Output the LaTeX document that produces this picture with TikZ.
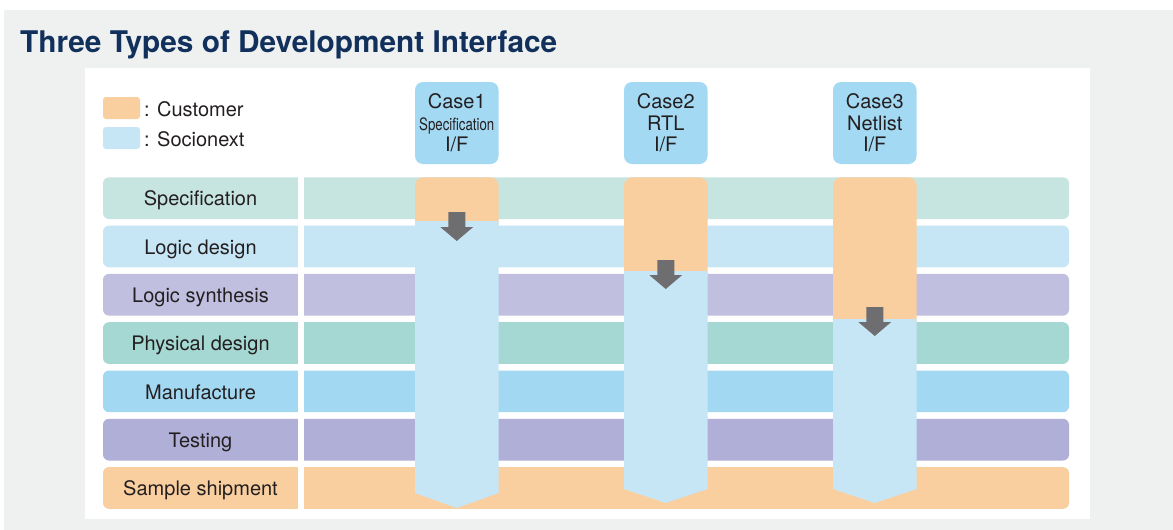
\documentclass[tikz,border=0pt]{standalone}
\usepackage{fontspec}
\setmainfont{TeX Gyre Heros}
\usepackage{graphicx}
\usepackage{xcolor}
\usetikzlibrary{positioning}
\definecolor{bggray}{HTML}{EFF1F0}
\definecolor{titleblue}{HTML}{12305C}
\definecolor{txtdark}{HTML}{231F20}
\definecolor{custorange}{HTML}{F9CFA0}
\definecolor{sociblue}{HTML}{C6E6F6}
\definecolor{hdrblue}{HTML}{A3D9F3}
\definecolor{arrowgray}{HTML}{6E6E70}
\definecolor{rowspec}{HTML}{C6E5E0}
\definecolor{rowlogic}{HTML}{C6E6F6}
\definecolor{rowsynth}{HTML}{C0BFE0}
\definecolor{rowphys}{HTML}{A6D8D3}
\definecolor{rowmanu}{HTML}{A2D8F1}
\definecolor{rowtest}{HTML}{B0AFD7}
\definecolor{rowship}{HTML}{F9CFA0}

\begin{document}
\begin{tikzpicture}[x=1pt,y=-1pt,
  lbl/.style={anchor=base,text=txtdark,font=\fontsize{20}{21.5}\selectfont},
  casebox/.style={fill=hdrblue,rounded corners=8pt,minimum width=83.5pt,minimum height=82pt,
    inner sep=0pt,align=center,text=txtdark,font=\fontsize{20}{21.5}\selectfont}]
\useasboundingbox (0,0) rectangle (1173,530);
\fill[bggray] (4,10) rectangle (1173,530);
\fill[white] (85,68) rectangle (1090,519);
\node[anchor=base west,inner sep=0pt,text=titleblue,font=\fontsize{29.8}{29.8}\selectfont\bfseries] (title) at (20,52) {Three Types of Development Interface};

\fill[custorange,rounded corners=3pt] (103,97) rectangle (140,119);
\node[lbl,anchor=base west,inner sep=0pt] (cust) at (144,116) {: Customer};
\fill[sociblue,rounded corners=3pt] (103,127) rectangle (140,149);
\node[lbl,anchor=base west,inner sep=0pt] (soci) at (144,146) {: Socionext};

\foreach \name/\col [count=\i from 0] in {Specification/rowspec,Logic design/rowlogic,Logic synthesis/rowsynth,Physical design/rowphys,Manufacture/rowmanu,Testing/rowtest,Sample shipment/rowship} {
  \pgfmathsetmacro\ytop{177.3+48.3*\i}
  \fill[\col,rounded corners=6pt] (103,\ytop) rectangle (1069,\ytop+41.7);
  \node[lbl] (step\i) at (200.5,\ytop+28.6) {\name};
}
\fill[white] (298.3,170) rectangle (304,515);

\foreach \xl/\oend/\atop/\side/\tip [count=\j] in {415/221/212/493/508,624/271/260/489/503,833/319/307/489/503} {
  \fill[custorange,rounded corners=8pt] (\xl,177.3) rectangle (\xl+83.5,\oend+12);
  \fill[sociblue] (\xl,\oend) -- (\xl,\side) -- (\xl+41.75,\tip) -- (\xl+83.5,\side) -- (\xl+83.5,\oend) -- cycle;
  \pgfmathsetmacro\xc{\xl+41.75}
  \fill[arrowgray] (\xc-8.5,\atop) -- (\xc+8.5,\atop) -- (\xc+8.5,\atop+15) -- (\xc+16.5,\atop+15)
    -- (\xc,\atop+29) -- (\xc-16.5,\atop+15) -- (\xc-8.5,\atop+15) -- cycle;
}

\node[casebox] (case1) at (456.75,123) {Case1\\\scalebox{0.78}[1]{\fontsize{17}{17}\selectfont Specification}\\I/F};
\node[casebox] (case2) at (665.75,123) {Case2\\RTL\\I/F};
\node[casebox] (case3) at (874.75,123) {Case3\\Netlist\\I/F};
\end{tikzpicture}
\end{document}
